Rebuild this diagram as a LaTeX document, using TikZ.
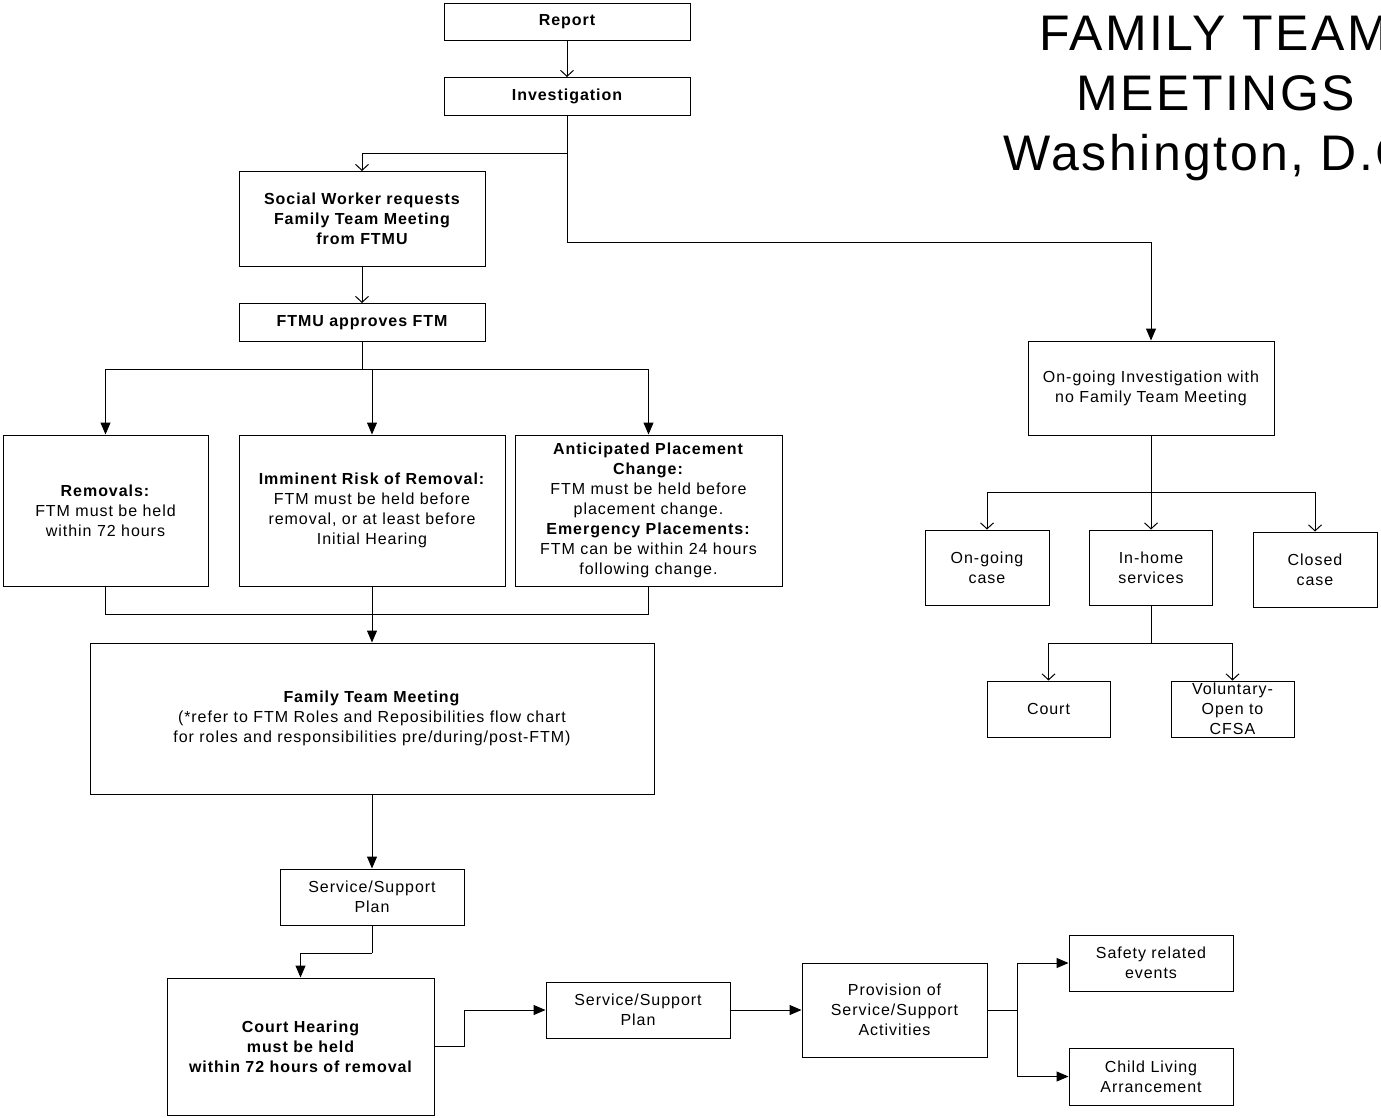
\documentclass[tikz,border=0pt]{standalone}
\usepackage{fontspec}
\setmainfont{Liberation Sans}[LetterSpace=6]
\newfontfamily\titlefont{Liberation Sans}[LetterSpace=5]
\usetikzlibrary{arrows.meta,calc}
\tikzset{
  box/.style={draw=black, line width=1pt, inner sep=0pt, align=center,
    font=\fontsize{16}{20}\selectfont},
  bbox/.style={box, font=\fontsize{16}{20}\selectfont\bfseries},
  conn/.style={line width=1pt, draw=black},
  oarrow/.style={conn, -{Straight Barb[length=6pt,width=13pt,line width=1pt]}},
  farrow/.style={conn, -{Triangle[length=12pt,width=10pt]}},
  titletext/.style={anchor=base, inner sep=0pt, font=\titlefont\fontsize{50}{60}\selectfont}
}
\begin{document}
\begin{tikzpicture}[x=1pt,y=-1pt]
\useasboundingbox (0,0) rectangle (1381,1117);
\fill[white] (0,0) rectangle (1381,1117);

% title
\node[titletext] (t1) at (1214,50) {FAMILY TEAM};
\node[titletext] (t2) at (1216,110) {MEETINGS};
\node[titletext] (t3) at (1216,170) {Washington, D.C.};

% left column
\node[bbox, minimum width=246pt, minimum height=37pt] (rep) at (567,21.5) {Report};
\node[bbox, minimum width=246pt, minimum height=38pt] (inv) at (567,96.5) {Investigation};
\node[bbox, minimum width=246pt, minimum height=95pt] (sw) at (362,219) {Social Worker requests\\Family Team Meeting\\from FTMU};
\node[bbox, minimum width=246pt, minimum height=38pt] (ftmu) at (362,322.5) {FTMU approves FTM};

\node[box, minimum width=205pt, minimum height=151pt] (rem) at (105.5,510.5) {\textbf{Removals:}\\FTM must be held\\within 72 hours};
\node[box, minimum width=266pt, minimum height=151pt] (imm) at (372,510.5) {\textbf{Imminent Risk of Removal:}\\FTM must be held before\\removal, or at least before\\Initial Hearing};
\node[box, minimum width=267pt, minimum height=151pt] (ant) at (648.5,510.5) {\textbf{Anticipated Placement}\\\textbf{Change:}\\FTM must be held before\\placement change.\\\textbf{Emergency Placements:}\\FTM can be within 24 hours\\following change.};

\node[box, minimum width=564pt, minimum height=151pt] (ftm) at (372,718.5) {\textbf{Family Team Meeting}\\(*refer to FTM Roles and Reposibilities flow chart\\for roles and responsibilities pre/during/post-FTM)};
\node[box, minimum width=184pt, minimum height=56pt] (ssp1) at (372,897) {Service/Support\\Plan};
\node[bbox, minimum width=267pt, minimum height=137pt] (ch) at (300.5,1046.5) {Court Hearing\\must be held\\within 72 hours of removal};
\node[box, minimum width=184pt, minimum height=56pt] (ssp2) at (638,1010) {Service/Support\\Plan};
\node[box, minimum width=185pt, minimum height=94pt] (prov) at (894.5,1010) {Provision of\\Service/Support\\Activities};
\node[box, minimum width=164pt, minimum height=56pt] (saf) at (1151,963) {Safety related\\events};
\node[box, minimum width=164pt, minimum height=57pt] (chl) at (1151,1076.5) {Child Living\\Arrancement};

% right column
\node[box, minimum width=246pt, minimum height=94pt] (oi) at (1151,388) {On-going Investigation with\\no Family Team Meeting};
\node[box, minimum width=124pt, minimum height=75pt] (ogc) at (987,567.5) {On-going\\case};
\node[box, minimum width=123pt, minimum height=75pt] (inh) at (1151,567.5) {In-home\\services};
\node[box, minimum width=124pt, minimum height=75pt] (clc) at (1315,569.5) {Closed\\case};
\node[box, minimum width=123pt, minimum height=56pt] (crt) at (1048.5,709) {Court};
\node[box, minimum width=123pt, minimum height=56pt] (vol) at (1232.5,709) {Voluntary-\\Open to\\CFSA};

% junctions
\coordinate (jA) at (567,153);
\coordinate (jB) at (567,242);
\coordinate (j1) at (362,369);
\coordinate (j2) at (372,614);
\coordinate (j3) at (1017,1010);
\coordinate (j4) at (1151,492);
\coordinate (j5) at (1151,643);
\coordinate (j6) at (372,953);

% connectors
\draw[oarrow] (rep.south) -- (inv.north);
\draw[oarrow] (inv.south) -- (jA) -| (sw.north);
\draw[farrow] (jA) -- (jB) -| (oi.north);
\draw[oarrow] (sw.south) -- (ftmu.north);
\draw[conn] (ftmu.south) -- (j1);
\draw[farrow] (j1) -| (rem.north);
\draw[farrow] (j1) -| (imm.north);
\draw[farrow] (j1) -| (ant.north);
\draw[conn] (rem.south) |- (j2);
\draw[conn] (ant.south) |- (j2);
\draw[farrow] (imm.south) -- (ftm.north);
\draw[farrow] (ftm.south) -- (ssp1.north);
\draw[conn] (ssp1.south) -- (j6);
\draw[farrow] (j6) -| (ch.north);
\draw[farrow] (ch.east) -- ++(30,0) |- (ssp2.west);
\draw[farrow] (ssp2.east) -- (prov.west);
\draw[conn] (prov.east) -- (j3);
\draw[farrow] (j3) |- (saf.west);
\draw[farrow] (j3) |- (chl.west);

\draw[conn] (oi.south) -- (j4);
\draw[oarrow] (j4) -| (ogc.north);
\draw[oarrow] (j4) -| (inh.north);
\draw[oarrow] (j4) -| (clc.north);
\draw[conn] (inh.south) -- (j5);
\draw[oarrow] (j5) -| (crt.north);
\draw[oarrow] (j5) -| (vol.north);
\end{tikzpicture}
\end{document}
